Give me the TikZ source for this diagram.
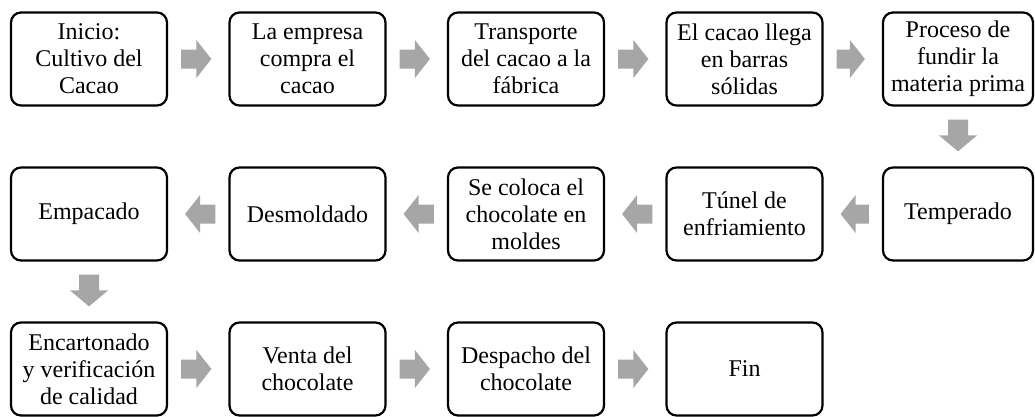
\documentclass[tikz,border=0pt]{standalone}
\usepackage{fontspec}
\setmainfont{Liberation Serif}
\usetikzlibrary{calc}
\definecolor{arrgray}{HTML}{A6A6A6}
\tikzset{
  stepbox/.style={draw=black, line width=2.2pt, rounded corners=10pt, fill=white,
    minimum width=156pt, minimum height=93pt, align=center, inner sep=2pt,
    font=\fontsize{24}{27}\selectfont},
  blk/.style={fill=arrgray, draw=none}
}
\newcommand\ArrR[2]{\fill[blk] ($(#1.east)+(13,-9.5)$) -- ($(#2.west)+(-32,-9.5)$) -- ($(#2.west)+(-32,-19)$) -- ($(#2.west)+(-17,0)$) -- ($(#2.west)+(-32,19)$) -- ($(#2.west)+(-32,9.5)$) -- ($(#1.east)+(13,9.5)$) -- cycle;}
\newcommand\ArrL[2]{\fill[blk] ($(#1.west)+(-13,-9.5)$) -- ($(#2.east)+(32,-9.5)$) -- ($(#2.east)+(32,-19)$) -- ($(#2.east)+(17,0)$) -- ($(#2.east)+(32,19)$) -- ($(#2.east)+(32,9.5)$) -- ($(#1.west)+(-13,9.5)$) -- cycle;}
\newcommand\ArrD[2]{\fill[blk] ($(#1.south)+(-10,13)$) -- ($(#2.north)+(-10,-31)$) -- ($(#2.north)+(-19,-31)$) -- ($(#2.north)+(0,-15)$) -- ($(#2.north)+(19,-31)$) -- ($(#2.north)+(10,-31)$) -- ($(#1.south)+(10,13)$) -- cycle;}
\begin{document}
\begin{tikzpicture}[x=1pt,y=-1pt]
\useasboundingbox (0,0) rectangle (1035,416);
% row 1
\node[stepbox] (a1) at (89,59) {Inicio:\\Cultivo del\\Cacao};
\node[stepbox] (a2) at (307.5,59) {La empresa\\compra el\\cacao};
\node[stepbox] (a3) at (526,59) {Transporte\\del cacao a la\\fábrica};
\node[stepbox] (a4) at (744.5,59) {El cacao llega\\en barras\\sólidas};
\node[stepbox, minimum width=150pt] (a5) at (958,59) {Proceso de\\fundir la\\materia prima};
% row 2
\node[stepbox, minimum width=150pt] (b5) at (958,214) {Temperado};
\node[stepbox] (b4) at (744.5,214) {Túnel de\\enfriamiento};
\node[stepbox] (b3) at (526,214) {Se coloca el\\chocolate en\\moldes};
\node[stepbox] (b2) at (307.5,214) {Desmoldado};
\node[stepbox] (b1) at (89,214) {Empacado};
% row 3
\node[stepbox] (c1) at (89,369) {Encartonado\\y verificación\\de calidad};
\node[stepbox] (c2) at (307.5,369) {Venta del\\chocolate};
\node[stepbox] (c3) at (526,369) {Despacho del\\chocolate};
\node[stepbox] (c4) at (744.5,369) {Fin};
% arrows
\ArrR{a1}{a2}
\ArrR{a2}{a3}
\ArrR{a3}{a4}
\ArrR{a4}{a5}
\ArrD{a5}{b5}
\ArrL{b5}{b4}
\ArrL{b4}{b3}
\ArrL{b3}{b2}
\ArrL{b2}{b1}
\ArrD{b1}{c1}
\ArrR{c1}{c2}
\ArrR{c2}{c3}
\ArrR{c3}{c4}
\end{tikzpicture}
\end{document}
